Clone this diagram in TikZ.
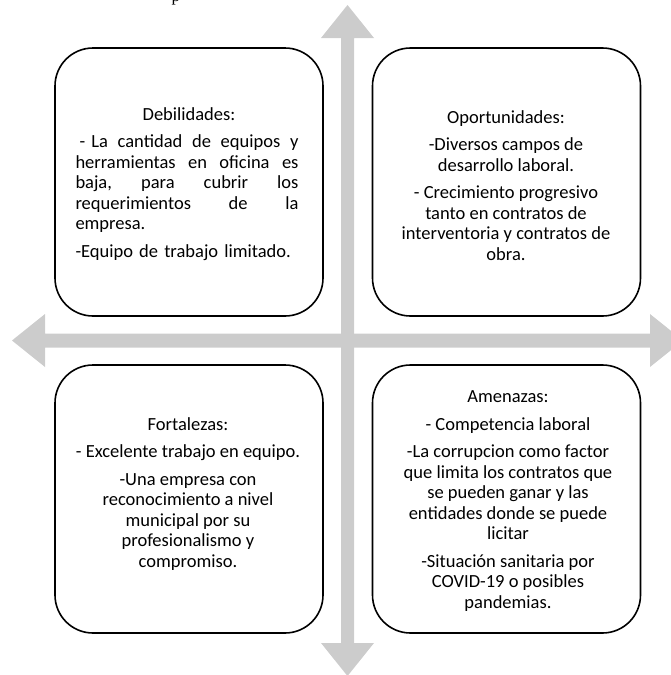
\documentclass[tikz,border=0pt]{standalone}
\usepackage{fontspec}
\setmainfont{Carlito}
\newfontfamily\captionserif{Liberation Serif}
\definecolor{arrowgray}{RGB}{204,204,204}
\newcommand{\dofafull}[1]{\leavevmode\hbox to 223pt{#1}}
\newcommand{\dofaleft}[1]{\leavevmode\hbox to 223pt{#1\hfil}}
\begin{document}
\begin{tikzpicture}[x=1pt,y=-1pt,
  quad/.style={draw=black, line width=1.6pt, rounded corners=38pt,
    minimum width=268pt, minimum height=268pt, inner sep=0pt},
  txt/.style={font=\fontsize{18.5}{20.5}\selectfont, align=center, inner sep=0pt},
  axis/.style={fill=arrowgray, draw=none}]
\useasboundingbox (0,0) rectangle (671,675);
\begin{scope}
\clip (0,0) rectangle (671,675);
% caption fragment at the top
\node[anchor=base west, inner sep=0pt, font=\captionserif\fontsize{17}{20}\selectfont] (cap) at (171.5,1) {p};
% axes
\fill[axis] (341,38) -- (321,38) -- (347.5,5) -- (374,38) -- (354,38)
  -- (354,643) -- (374,643) -- (347.5,676) -- (321,643) -- (341,643) -- cycle;
\fill[axis] (45,333.5) -- (45,314) -- (12,340.5) -- (45,367) -- (45,347.5)
  -- (650,347.5) -- (650,367) -- (683,340.5) -- (650,314) -- (650,333.5) -- cycle;
\end{scope}
% quadrants
\node[quad] (deb) at (189,182) {};
\node[quad] (opo) at (506.5,182) {};
\node[quad] (fort) at (189,499) {};
\node[quad] (ame) at (506.5,499) {};
% texts
\node[txt, text width=223pt] (debt) at (187,184) {%
\hspace*{4pt}Debilidades:\\[7pt]
\dofafull{\hspace*{4pt}-\ La\hfill cantidad\hfill de\hfill equipos\hfill y}\\
\dofafull{herramientas\hfill en\hfill oficina\hfill es}\\
\dofafull{baja,\hfill para\hfill cubrir\hfill los}\\
\dofafull{requerimientos\hfill de\hfill la}\\
\dofaleft{empresa.}\\[7pt]
\dofaleft{-Equipo de trabajo limitado.}};
\node[txt] (opot) at (506,185.5) {%
Oportunidades:\\[7pt]
-Diversos campos de\\
desarrollo laboral.\\[7pt]
- Crecimiento progresivo\\
tanto en contratos de\\
interventoria y contratos de\\
obra.};
\node[txt] (fortt) at (188,494) {%
Fortalezas:\\[7pt]
- Excelente trabajo en equipo.\\[7pt]
-Una empresa con\\
reconocimiento a nivel\\
municipal por su\\
profesionalismo y\\
compromiso.};
\node[txt] (amet) at (508,501) {%
Amenazas:\\[7pt]
- Competencia laboral\\[7pt]
-La corrupcion como factor\\
que limita los contratos que\\
se pueden ganar y las\\
entidades donde se puede\\
licitar\\[7pt]
-Situación sanitaria por\\
COVID-19 o posibles\\
pandemias.};
\end{tikzpicture}
\end{document}
